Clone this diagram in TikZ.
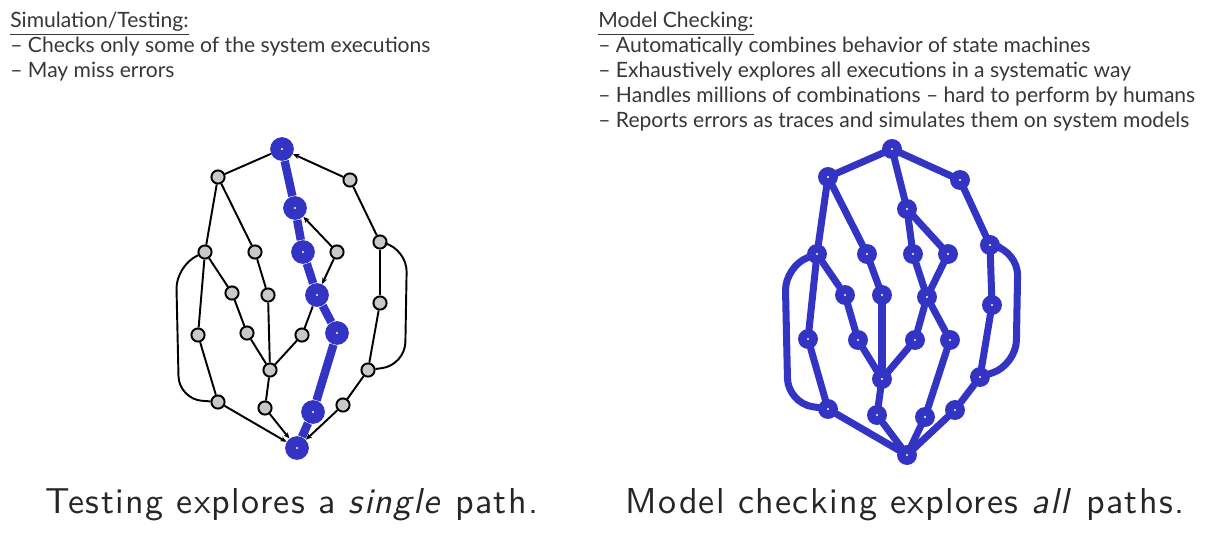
\documentclass[tikz,border=0pt]{standalone}
\usepackage{fontspec}
\setmainfont{Lato}
\newfontfamily\capfont{lmsans10-regular}[Extension=.otf,ItalicFont=lmsans10-oblique,LetterSpace=3.7]
\usetikzlibrary{arrows.meta}
\definecolor{mcblue}{RGB}{52,52,196}
\definecolor{stategray}{RGB}{200,200,204}
\definecolor{textgray}{RGB}{55,55,55}
\tikzset{
  state/.style={circle,draw=black,line width=1.1pt,fill=stategray,minimum size=7.5pt,inner sep=0pt},
  pathstate/.style={circle,fill=mcblue,minimum size=13.5pt,inner sep=0pt,
    path picture={\fill[white] (path picture bounding box.center) circle (0.7pt);}},
  mcstate/.style={circle,draw=mcblue,line width=2.8pt,fill=mcblue,minimum size=8.5pt,inner sep=0pt,
    path picture={\fill[white] (path picture bounding box.center) circle (0.7pt);}},
  trans/.style={line width=1.1pt},
  arrtrans/.style={line width=1.1pt,-{Stealth[length=3.5pt,width=3pt]}},
  pathtrans/.style={line width=4.8pt,mcblue},
  mctrans/.style={line width=4pt,mcblue,line cap=round},
  heading/.style={anchor=north west,inner sep=0pt,align=left,text=textgray,
    font=\fontsize{12}{14.2}\selectfont},
  caption/.style={inner sep=0pt,text=black!85,font=\capfont\fontsize{20.5}{24}\selectfont}
}
\begin{document}
\begin{tikzpicture}[x=0.02cm,y=-0.02cm]
  \useasboundingbox (0,0) rectangle (1211,555);

  \node[heading] (simhead) at (10,12)
    {\underline{Simulation/Testing:}\\
     -- Checks only some of the system executions\\
     -- May miss errors};
  \node[heading] (mchead) at (598,12)
    {\underline{Model Checking:}\\
     -- Automatically combines behavior of state machines\\
     -- Exhaustively explores all executions in a systematic way\\
     -- Handles millions of combinations -- hard to perform by humans\\
     -- Reports errors as traces and simulates them on system models};

  % testing: one path through the graph
  \begin{scope}
    \foreach \n/\x/\y in {a/218/177,b/350/180,d/205/252,e/255/252,g/337/252,
        h/380/242,i/232/293,j/268/295,l/380/303,m/198/335,n/247/333,o/302/335,
        q/270/370,r/368/370,s/218/402,t/265/408,v/343/405}
      \node[state] (T-\n) at (\x,\y) {};
    \foreach \n/\x/\y in {top/282/149,c/295/208,f/303/252,k/317/295,
        p/337/333,u/313/412,bot/297/448}
      \node[pathstate] (T-\n) at (\x,\y) {};

    \foreach \u/\v in {top/a,a/d,a/e,b/h,d/i,d/m,e/j,i/n,j/q,n/q,
        k/o,o/q,q/t,m/s,h/l,l/r,r/v}
      \draw[trans] (T-\u) -- (T-\v);
    \foreach \u/\v in {b/top,g/c,g/k,s/bot,t/bot,v/bot}
      \draw[arrtrans] (T-\u) -- (T-\v);
    \draw[trans,rounded corners=13pt] (T-d) -- (176,266) -- (179,399) -- (T-s);
    \draw[trans,rounded corners=13pt] (T-h) -- (407,249) -- (405,365) -- (T-r);

    \draw[pathtrans] (T-top) -- (T-c) -- (T-f) -- (T-k) -- (T-p) -- (T-u) -- (T-bot);
  \end{scope}

  % model checking: every path
  \begin{scope}[shift={(610,2)}]
    \foreach \n/\x/\y in {top/282/147,a/218/175,b/350/178,c/297/207,d/207/252,
        e/257/252,f/303/252,g/338/252,h/380/243,i/235/293,j/272/293,k/317/295,
        l/382/303,m/198/337,n/248/338,o/305/338,p/340/338,q/272/377,r/370/375,
        s/218/407,t/267/413,u/315/415,v/345/408,bot/297/453}
      \node[mcstate] (M-\n) at (\x,\y) {};

    \foreach \u/\v in {top/a,top/b,top/c,a/d,a/e,b/h,c/f,c/g,d/i,d/m,e/j,
        f/k,g/k,k/o,k/p,i/n,j/q,n/q,o/q,q/t,m/s,h/l,l/r,r/v,p/u,
        s/bot,t/bot,u/bot,v/bot}
      \draw[mctrans] (M-\u) -- (M-\v);
    \draw[mctrans,rounded corners=14pt] (M-d) -- (175,264) -- (178,401) -- (M-s);
    \draw[mctrans,rounded corners=14pt] (M-h) -- (408,249) -- (406,363) -- (M-r);
  \end{scope}

  \node[caption] (testcap) at (292,505) {Testing explores a \textit{single} path.};
  \node[caption] (mccap) at (905,505) {Model checking explores \textit{all} paths.};
\end{tikzpicture}
\end{document}
